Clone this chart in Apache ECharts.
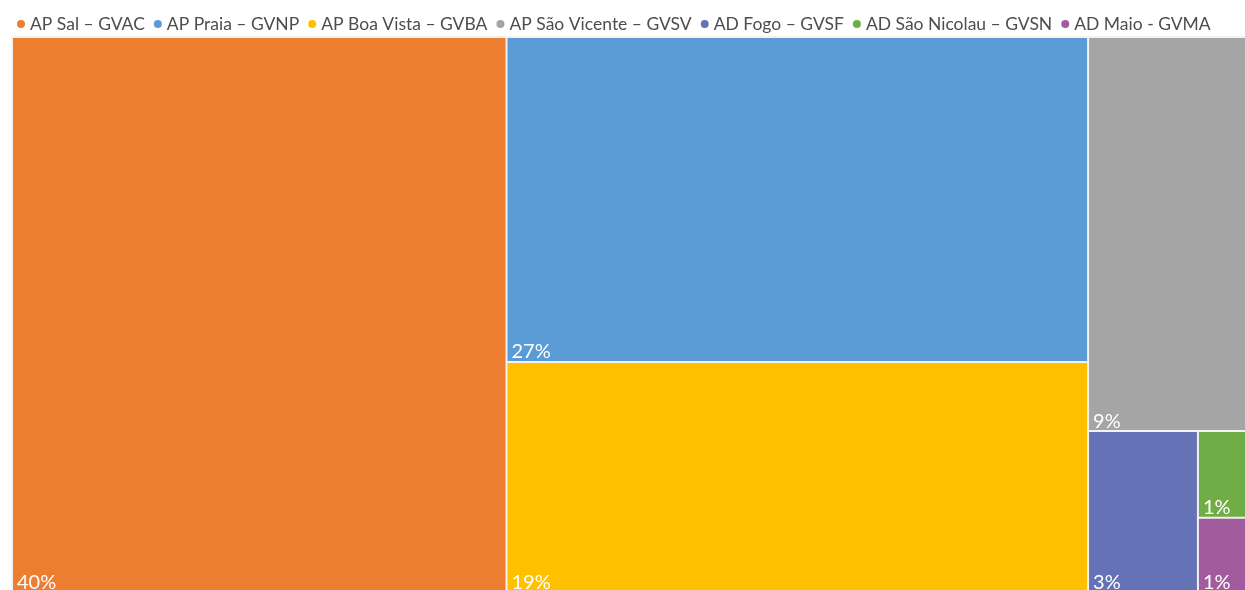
<!DOCTYPE html>
<html>
<head>
<meta charset="utf-8">
<script src="https://cdn.jsdelivr.net/npm/echarts@6/dist/echarts.min.js"></script>
<style>
  html, body { margin: 0; padding: 0; background: #ffffff; }
  #chart { width: 1245px; height: 590px; }
</style>
</head>
<body>
<div id="chart"></div>
<script>
// airports, share of traffic
var airports = ['AP Sal – GVAC', 'AP Praia – GVNP', 'AP Boa Vista – GVBA', 'AP São Vicente – GVSV',
  'AD Fogo – GVSF', 'AD São Nicolau – GVSN', 'AD Maio - GVMA'];
var shares = [39.88, 27.41, 19.49, 9.37, 2.58, 0.68, 0.59];
var colors = ['#ED7D31', '#5B9BD5', '#FFC000', '#A5A5A5', '#6473B5', '#70AD47', '#A05C9C'];

var total = shares.reduce(function (a, b) { return a + b; }, 0);

var chart = echarts.init(document.getElementById('chart'));

var option = {
  animation: false,
  legend: {
    data: airports,
    left: 12,
    top: 10,
    icon: 'circle',
    itemWidth: 8,
    itemHeight: 8,
    itemGap: 9,
    selectedMode: false,
    textStyle: { fontFamily: 'Lato', fontSize: 17.5, color: '#4d4d4d' }
  },
  series: [
    {
      // only here to feed the legend
      type: 'pie',
      radius: [0, 0],
      center: [-50, -50],
      silent: true,
      label: { show: false },
      labelLine: { show: false },
      data: airports.map(function (n, i) {
        return { name: n, value: shares[i], itemStyle: { color: colors[i] } };
      })
    },
    {
      type: 'treemap',
      left: 11,
      top: 36,
      width: 1242,
      height: 558,
      roam: false,
      nodeClick: false,
      breadcrumb: { show: false },
      silent: true,
      itemStyle: { borderWidth: 1, borderColor: '#f4f1ee', gapWidth: 0 },
      label: {
        show: true,
        position: 'insideBottomLeft',
        distance: 0,
        padding: [0, 0, 0, 4],
        offset: [0, 1],
        color: '#ffffff',
        fontFamily: 'Lato',
        fontSize: 20,
        formatter: function (p) {
          return Math.round(p.value / total * 100) + '%';
        }
      },
      data: airports.map(function (n, i) {
        return { name: n, value: shares[i], itemStyle: { color: colors[i] } };
      })
    }
  ]
};

chart.setOption(option);
</script>
</body>
</html>
